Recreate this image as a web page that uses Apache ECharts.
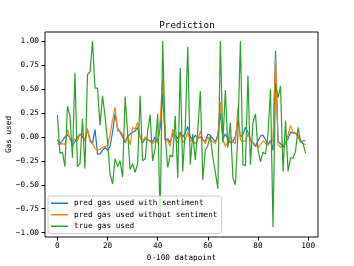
<!DOCTYPE html>
<html>
<head>
<meta charset="utf-8">
<script src="https://cdn.jsdelivr.net/npm/echarts@6/dist/echarts.min.js"></script>
<style>html,body{margin:0;padding:0;background:#fff}#c{width:354px;height:266px}</style>
</head>
<body>
<div id="c"></div>
<script>
const xTicks = [0, 20, 40, 60, 80, 100];
const yTicks = [-1, -0.75, -0.5, -0.25, 0, 0.25, 0.5, 0.75, 1];
const predWithSentiment = [-0.03,-0.07,-0.04,0.00,0.02,-0.01,-0.09,-0.05,0.00,0.03,0.00,-0.03,0.07,-0.03,-0.07,0.08,-0.18,-0.18,-0.14,-0.11,-0.14,-0.10,0.05,0.24,0.09,0.05,0.00,-0.06,0.00,0.03,0.05,0.06,0.10,0.00,-0.06,-0.02,-0.03,-0.04,-0.05,0.00,-0.06,0.10,0.45,-0.03,-0.02,-0.06,0.03,0.02,-0.02,0.05,0.00,0.04,0.11,0.00,-0.03,0.02,-0.02,0.00,-0.03,-0.05,0.03,0.02,-0.02,-0.05,0.02,0.25,-0.02,0.03,-0.02,-0.06,-0.05,0.00,0.17,0.00,0.02,0.10,0.05,-0.03,-0.06,-0.10,-0.04,0.01,0.02,-0.03,-0.07,-0.04,-0.14,0.90,-0.05,-0.07,-0.11,-0.06,-0.02,0.05,0.04,0.04,0.00,-0.05,-0.04,-0.04];
const predWithoutSentiment = [-0.07,-0.08,-0.07,-0.08,0.08,-0.03,-0.05,-0.02,-0.04,0.03,0.03,-0.05,0.09,-0.05,-0.07,-0.12,-0.14,-0.13,-0.11,-0.10,-0.09,0.02,0.18,0.31,0.06,0.06,0.03,-0.05,0.01,-0.08,0.10,0.08,0.15,0.00,-0.05,0.00,-0.03,-0.05,-0.07,-0.04,-0.05,0.18,0.62,-0.04,-0.04,-0.10,0.08,-0.02,-0.06,0.03,-0.06,-0.03,0.05,-0.04,-0.04,-0.07,-0.03,0.06,-0.03,-0.07,0.00,-0.04,-0.05,-0.07,0.00,0.36,-0.02,-0.10,-0.05,0.00,-0.05,-0.07,0.31,-0.03,-0.05,-0.04,0.03,-0.04,-0.06,-0.08,-0.11,-0.08,-0.04,-0.06,-0.09,-0.05,-0.03,0.82,-0.08,-0.11,-0.08,-0.07,0.02,0.12,0.05,0.04,0.02,-0.05,-0.07,-0.08];
const trueGas = [0.23,-0.17,-0.16,-0.31,0.32,0.22,-0.22,0.67,-0.31,-0.28,0.19,-0.33,0.65,0.68,1.00,0.51,0.51,0.12,0.43,0.22,-0.05,-0.39,-0.49,-0.23,-0.31,-0.25,-0.42,0.42,0.05,-0.34,-0.28,-0.37,-0.28,0.43,-0.25,-0.23,0.06,0.23,-0.25,-0.12,0.24,-0.87,1.00,0.02,-0.32,-0.19,-0.21,0.22,-0.43,0.72,-0.36,0.10,0.94,-0.29,0.03,-0.24,0.07,0.48,-0.45,-0.14,-0.09,0.01,-0.21,-0.37,-0.54,1.00,-0.06,0.49,-0.11,0.15,-0.43,-0.50,0.04,1.00,-0.29,-0.30,0.64,-0.29,0.15,0.24,-0.13,-0.26,-0.16,-0.18,0.03,0.50,-0.94,0.56,0.41,0.53,-0.36,0.17,-0.36,-0.22,-0.22,-0.15,0.10,-0.05,-0.07,-0.17];

const font = 'DejaVu Sans Mono';
const toPairs = arr => arr.map((v, i) => [i, v]);
const fmt = v => (v < 0 ? '\u2212' : '') + Math.abs(v).toFixed(2);

const chart = echarts.init(document.getElementById('c'), null, {renderer: 'canvas'});
const lineSeries = (name, data, color) => ({
  name, type: 'line', data: toPairs(data), symbol: 'none', showSymbol: false,
  lineStyle: {color, width: 1.2}, itemStyle: {color}, animation: false
});
chart.setOption({
  animation: false,
  title: {
    text: 'Prediction', left: 182, top: 16, textAlign: 'center',
    textStyle: {fontFamily: font, fontSize: 9.2, fontWeight: 'normal', color: '#000'}
  },
  grid: {left: 45, right: 36, top: 32, bottom: 29, containLabel: false, outerBoundsMode: 'none', show: true, borderColor: '#111', borderWidth: 1, backgroundColor: 'transparent'},
  xAxis: {
    type: 'value', min: -4.95, max: 103.95,
    name: '0-100 datapoint', nameLocation: 'middle', nameGap: 17, nameMoveOverlap: false,
    nameTextStyle: {fontFamily: font, fontSize: 7.7, color: '#000'},
    axisLine: {show: false, onZero: false},
    splitLine: {show: false},
    axisTick: {show: true, inside: false, length: 3.5, lineStyle: {color: '#000'}, customValues: xTicks},
    axisLabel: {fontFamily: font, fontSize: 7.7, color: '#000', margin: 5, customValues: xTicks, formatter: v => String(v)}
  },
  yAxis: {
    type: 'value', min: -1.045, max: 1.095,
    name: 'Gas used', nameLocation: 'middle', nameGap: 32, nameRotate: 90, nameMoveOverlap: false,
    nameTextStyle: {fontFamily: font, fontSize: 7.7, color: '#000'},
    axisLine: {show: false, onZero: false},
    splitLine: {show: false},
    axisTick: {show: true, inside: false, length: 3.5, lineStyle: {color: '#000'}, customValues: yTicks},
    axisLabel: {fontFamily: font, fontSize: 7.7, color: '#000', margin: 6, customValues: yTicks, formatter: fmt}
  },
  legend: {
    orient: 'vertical', left: 48, top: 196,
    data: ['pred gas used with sentiment', 'pred gas used without sentiment', 'true gas used'],
    icon: 'rect', itemWidth: 17, itemHeight: 1.5, itemGap: 3,
    padding: [3, 4, 3, 3],
    backgroundColor: 'rgba(255,255,255,0.8)', borderColor: '#ccc', borderWidth: 1, borderRadius: 2,
    textStyle: {fontFamily: font, fontSize: 7.7, color: '#000', lineHeight: 8.5, padding: [0, 0, 0, 1]}
  },
  series: [
    lineSeries('pred gas used with sentiment', predWithSentiment, '#1f77b4'),
    lineSeries('pred gas used without sentiment', predWithoutSentiment, '#ff7f0e'),
    lineSeries('true gas used', trueGas, '#2ca02c')
  ]
});
</script>
</body>
</html>
